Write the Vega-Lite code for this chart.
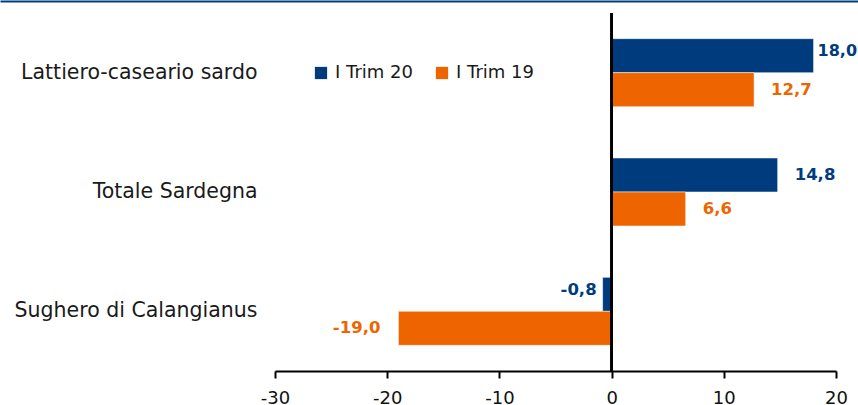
{
  "$schema": "https://vega.github.io/schema/vega-lite/v6.json",
  "autosize": {"type": "none"},
  "padding": {"left": 275, "top": 13, "right": 22, "bottom": 34},
  "width": 561,
  "height": 358,
  "background": "white",
  "config": {
    "locale": {"number": {"decimal": ",", "thousands": ".", "grouping": [3], "currency": ["€", ""], "minus": "-"}},
    "view": {"stroke": null},
    "font": "DejaVu Sans"
  },
  "data": {
    "values": [
      {"cat": "Lattiero-caseario sardo", "serie": "I Trim 20", "v": 18.0},
      {"cat": "Lattiero-caseario sardo", "serie": "I Trim 19", "v": 12.7},
      {"cat": "Totale Sardegna", "serie": "I Trim 20", "v": 14.8},
      {"cat": "Totale Sardegna", "serie": "I Trim 19", "v": 6.6},
      {"cat": "Sughero di Calangianus", "serie": "I Trim 20", "v": -0.8},
      {"cat": "Sughero di Calangianus", "serie": "I Trim 19", "v": -19.0}
    ]
  },
  "resolve": {"scale": {"x": "independent"}, "axis": {"x": "independent"}},
  "layer": [
    {
      "mark": {"type": "bar", "stroke": "white", "strokeWidth": 0.5},
      "encoding": {
        "y": {
          "field": "cat", "type": "nominal",
          "sort": ["Lattiero-caseario sardo", "Totale Sardegna", "Sughero di Calangianus"],
          "scale": {"paddingInner": 0.43, "paddingOuter": 0.215},
          "axis": {"title": null, "domain": false, "ticks": false, "labelPadding": 18, "labelFontSize": 20.5, "labelLimit": 400, "labelColor": "#1a1a1a", "labelFont": "DejaVu Sans"}
        },
        "yOffset": {"field": "serie", "type": "nominal", "sort": ["I Trim 20", "I Trim 19"]},
        "x": {
          "field": "v", "type": "quantitative",
          "scale": {"domain": [-30, 20], "nice": false},
          "axis": {"title": null, "values": [-30, -20, -10, 0, 10, 20], "grid": false, "labelFlush": false, "domainColor": "black", "domainWidth": 2, "tickColor": "black", "tickWidth": 2, "tickSize": 7, "labelFontSize": 18, "labelColor": "#111", "labelPadding": 11, "labelFont": "DejaVu Sans"}
        },
        "color": {
          "field": "serie", "type": "nominal",
          "scale": {"domain": ["I Trim 20", "I Trim 19"], "range": ["#003C7D", "#EE6500"]},
          "legend": {"title": null, "orient": "none", "direction": "horizontal", "legendX": 37, "legendY": 51, "symbolType": "square", "symbolSize": 150, "symbolStrokeWidth": 0, "labelFontSize": 18, "labelColor": "#1a1a1a", "labelFont": "DejaVu Sans", "columnPadding": 20, "labelOffset": 5}
        }
      }
    },
    {
      "mark": {"type": "rule", "color": "black", "strokeWidth": 2},
      "encoding": {
        "x": {"datum": 0, "type": "quantitative", "scale": {"domain": [-30, 20], "nice": false}, "axis": null}
      }
    },
    {
      "mark": {"type": "rule", "opacity": 0},
      "encoding": {
        "x": {"datum": 0, "type": "quantitative", "scale": {"domain": [0, 1], "range": [-275, 583], "nice": false}, "axis": {"orient": "top", "offset": 12, "labels": false, "ticks": false, "grid": false, "title": null, "domainColor": "#003C7D", "domainWidth": 2}}
      }
    },
    {
      "transform": [{"filter": "datum.v > 0 && datum.v < 17"}],
      "mark": {"type": "text", "align": "left", "baseline": "middle", "dx": 17, "fontWeight": "bold", "fontSize": 16.5},
      "encoding": {
        "y": {"field": "cat", "type": "nominal", "sort": ["Lattiero-caseario sardo", "Totale Sardegna", "Sughero di Calangianus"]},
        "yOffset": {"field": "serie", "type": "nominal", "sort": ["I Trim 20", "I Trim 19"]},
        "x": {"field": "v", "type": "quantitative", "scale": {"domain": [-30, 20], "nice": false}, "axis": null},
        "text": {"field": "v", "type": "quantitative", "format": ".1f"},
        "color": {"field": "serie", "type": "nominal"}
      }
    },
    {
      "transform": [{"filter": "datum.v >= 17"}],
      "mark": {"type": "text", "align": "left", "baseline": "middle", "dx": 4, "dy": -5, "fontWeight": "bold", "fontSize": 16},
      "encoding": {
        "y": {"field": "cat", "type": "nominal", "sort": ["Lattiero-caseario sardo", "Totale Sardegna", "Sughero di Calangianus"]},
        "yOffset": {"field": "serie", "type": "nominal", "sort": ["I Trim 20", "I Trim 19"]},
        "x": {"field": "v", "type": "quantitative", "scale": {"domain": [-30, 20], "nice": false}, "axis": null},
        "text": {"field": "v", "type": "quantitative", "format": ".1f"},
        "color": {"field": "serie", "type": "nominal"}
      }
    },
    {
      "transform": [{"filter": "datum.v < 0 && datum.v > -5"}],
      "mark": {"type": "text", "align": "right", "baseline": "middle", "dx": -6, "dy": -4, "fontWeight": "bold", "fontSize": 16.5},
      "encoding": {
        "y": {"field": "cat", "type": "nominal", "sort": ["Lattiero-caseario sardo", "Totale Sardegna", "Sughero di Calangianus"]},
        "yOffset": {"field": "serie", "type": "nominal", "sort": ["I Trim 20", "I Trim 19"]},
        "x": {"field": "v", "type": "quantitative", "scale": {"domain": [-30, 20], "nice": false}, "axis": null},
        "text": {"field": "v", "type": "quantitative", "format": ".1f"},
        "color": {"field": "serie", "type": "nominal"}
      }
    },
    {
      "transform": [{"filter": "datum.v <= -5"}],
      "mark": {"type": "text", "align": "right", "baseline": "middle", "dx": -18, "fontWeight": "bold", "fontSize": 16.5},
      "encoding": {
        "y": {"field": "cat", "type": "nominal", "sort": ["Lattiero-caseario sardo", "Totale Sardegna", "Sughero di Calangianus"]},
        "yOffset": {"field": "serie", "type": "nominal", "sort": ["I Trim 20", "I Trim 19"]},
        "x": {"field": "v", "type": "quantitative", "scale": {"domain": [-30, 20], "nice": false}, "axis": null},
        "text": {"field": "v", "type": "quantitative", "format": ".1f"},
        "color": {"field": "serie", "type": "nominal"}
      }
    }
  ]
}
